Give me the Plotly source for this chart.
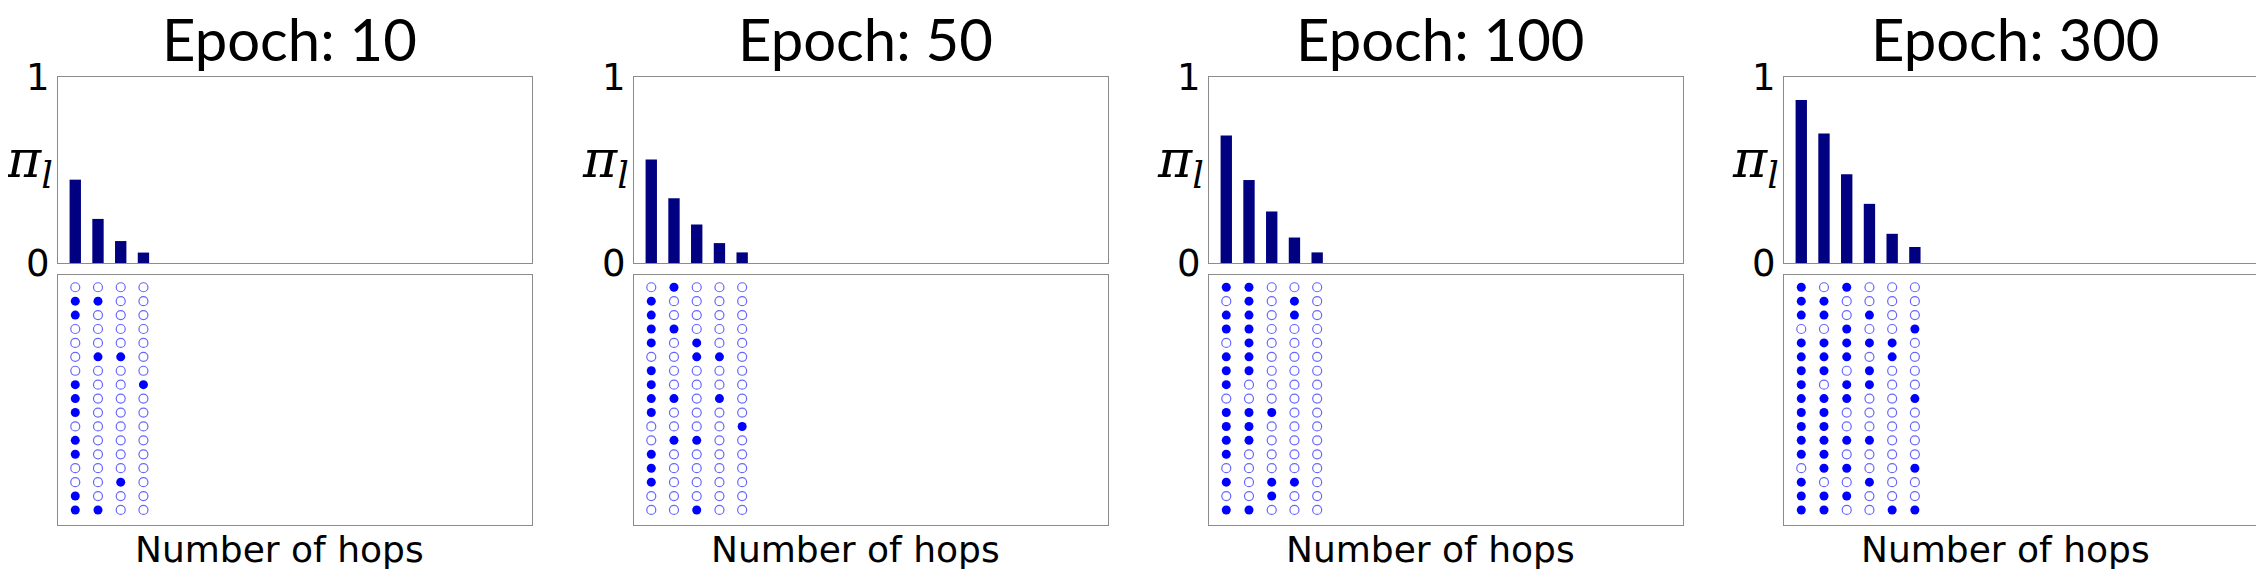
import plotly.graph_objects as go

# the page shows the figure offset by 8 px, so draw it 8 px smaller
OFF = 8
W, H = 2264 - OFF, 570 - OFF

epochs = [10, 50, 100, 300]

# attention weight per hop
pi_10 = [0.448, 0.237, 0.118, 0.056]
pi_50 = [0.557, 0.348, 0.207, 0.107, 0.057]
pi_100 = [0.686, 0.446, 0.277, 0.137, 0.057]
pi_300 = [0.877, 0.696, 0.477, 0.318, 0.157, 0.086]

# sampled hops, one string per row (top to bottom), 1 = filled dot
hops_10 = ["0000", "1100", "1000", "0000", "0000", "0110", "0000", "1001", "1000",
           "1000", "0000", "1000", "1000", "0000", "0010", "1000", "1100"]
hops_50 = ["01000", "10000", "10000", "11000", "10100", "00110", "10000", "10000", "11010",
           "10000", "00001", "01100", "10000", "10000", "10000", "00000", "00100"]
hops_100 = ["11000", "01010", "11010", "11000", "01000", "11000", "11000", "10000", "00000",
            "11100", "11000", "11000", "10000", "00000", "10110", "00100", "11000"]
hops_300 = ["101000", "110000", "110100", "001001", "111110", "111010", "110100", "101100", "111001",
            "110000", "110000", "111100", "110000", "011001", "100100", "111000", "110011"]

pis = [pi_10, pi_50, pi_100, pi_300]
hops = [hops_10, hops_50, hops_100, hops_300]

# panel geometry in pixels of the reference
lefts = [58, 634, 1209, 1784]
pw = 474
top_y = (77, 263)
bot_y = (275, 525)


def px_x(v):
    return (v - OFF) / W


def px_y(v):
    return 1 - (v - OFF) / H


fig = go.Figure()
layout = {}
annotations = []
box = dict(showline=True, mirror=True, linecolor='#8c8c8c', linewidth=1.2,
           showgrid=False, zeroline=False, fixedrange=True, automargin=False)

for i in range(4):
    xa_t, ya_t = 2 * i + 1, 2 * i + 1
    xa_b, ya_b = 2 * i + 2, 2 * i + 2
    x0, x1 = px_x(lefts[i]), px_x(lefts[i] + pw)

    fig.add_trace(go.Bar(
        x=list(range(len(pis[i]))), y=pis[i], width=0.5,
        marker=dict(color='#000080', line=dict(width=0)),
        xaxis=f'x{xa_t}', yaxis=f'y{ya_t}', showlegend=False))

    fx, fy, ox, oy = [], [], [], []
    nrows = len(hops[i])
    for r, row in enumerate(hops[i]):
        for c, ch in enumerate(row):
            if ch == '1':
                fx.append(c)
                fy.append(nrows - 1 - r)
            else:
                ox.append(c)
                oy.append(nrows - 1 - r)
    fig.add_trace(go.Scatter(
        x=ox, y=oy, mode='markers',
        marker=dict(symbol='circle-open', size=9, color='rgba(0,0,255,0.6)', line=dict(width=1.2)),
        xaxis=f'x{xa_b}', yaxis=f'y{ya_b}', showlegend=False))
    fig.add_trace(go.Scatter(
        x=fx, y=fy, mode='markers',
        marker=dict(symbol='circle', size=9, color='#0000ff'),
        xaxis=f'x{xa_b}', yaxis=f'y{ya_b}', showlegend=False))

    layout[f'xaxis{xa_t}'] = dict(box, domain=[x0, x1], range=[-0.76, 20.1],
                                  showticklabels=False, anchor=f'y{ya_t}')
    layout[f'yaxis{ya_t}'] = dict(box, domain=[px_y(top_y[1]), px_y(top_y[0])], range=[0, 1],
                                  tickvals=[0, 1], ticktext=['0', '1'], ticks='',
                                  tickfont=dict(family='DejaVu Sans', size=37, color='black'),
                                  anchor=f'x{xa_t}')
    layout[f'xaxis{xa_b}'] = dict(box, domain=[x0, x1], range=[-0.76, 20.1],
                                  showticklabels=False, anchor=f'y{ya_b}')
    layout[f'yaxis{ya_b}'] = dict(box, domain=[px_y(bot_y[1]), px_y(bot_y[0])], range=[-1.08, 16.88],
                                  showticklabels=False, anchor=f'x{xa_b}')

    cx = lefts[i] + pw / 2
    annotations.append(dict(
        x=px_x(cx - 6), y=px_y(38), xref='paper', yref='paper', xanchor='center', yanchor='middle',
        text=f'Epoch: {epochs[i]}', showarrow=False,
        font=dict(family='Lato', size=58, color='black')))
    annotations.append(dict(
        x=px_x(cx - 16), y=px_y(549), xref='paper', yref='paper', xanchor='center', yanchor='middle',
        text='Number of hops', showarrow=False,
        font=dict(family='DejaVu Sans', size=36, color='black')))
    annotations.append(dict(
        x=px_x(lefts[i] - 3), y=px_y(163), xref='paper', yref='paper', xanchor='right', yanchor='middle',
        text='<i>π</i><sub><i>l</i></sub>', showarrow=False,
        font=dict(family='DejaVu Serif', size=52, color='black')))

fig.update_layout(
    width=W, height=H,
    margin=dict(l=0, r=0, t=0, b=0),
    paper_bgcolor='white', plot_bgcolor='white',
    annotations=annotations,
    **layout)

fig.write_html("out.html")
